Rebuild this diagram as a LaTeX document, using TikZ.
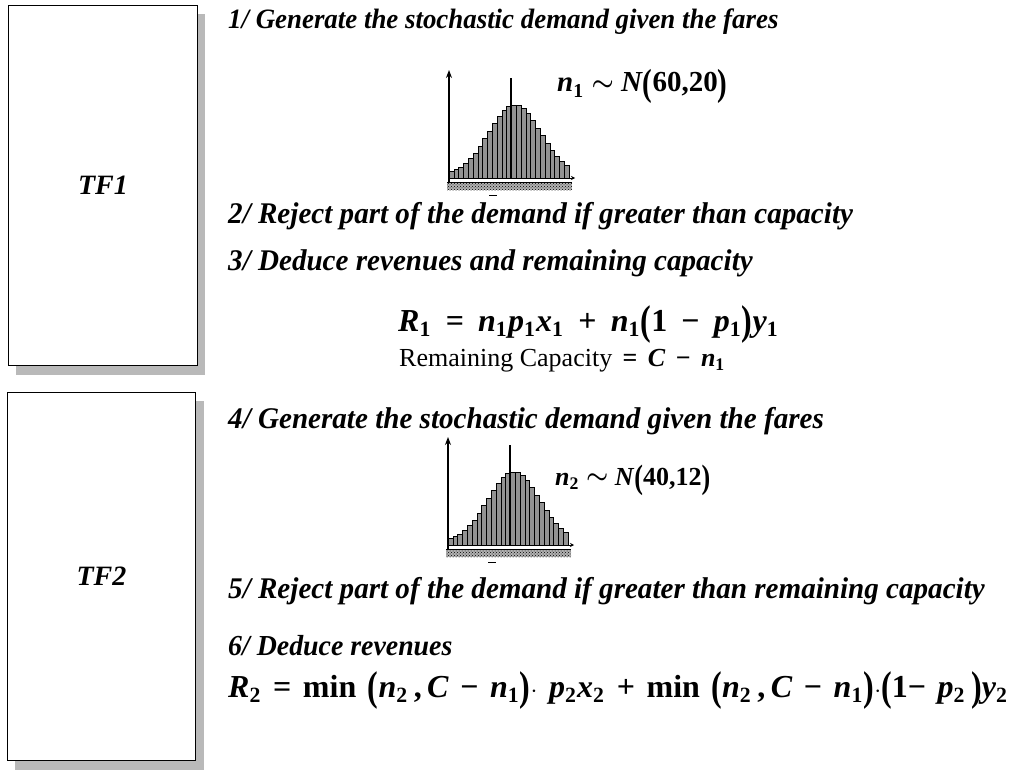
\documentclass[tikz,border=0pt]{standalone}
\usepackage{fontspec}
\setmainfont{Liberation Serif}
\newfontfamily\stepfont[FakeStretch=0.96]{Liberation Serif}
\newfontfamily\stepfontw[FakeStretch=0.97]{Liberation Serif}
\usetikzlibrary{arrows.meta,patterns}
\newcommand\bi[1]{\textbf{\textit{#1}}}
\newcommand\lowsub[1]{\raisebox{-0.4ex}{\scalebox{0.68}{\bfseries #1}}\hspace{0.04em}}
\newcommand\tallpar[1]{\raisebox{-0.12em}{\scalebox{1}[1.3]{\bfseries #1}}}
\newcommand\opsp{\hspace{0.44em}}
\newcommand\rtwosp{\hspace{0.36em}}
\newcommand\rcsp{\hspace{0.4em}}
\newcommand\tildeop{\raisebox{0.05em}{\boldmath$\sim$}}
\tikzset{
  panel/.style={draw=black, line width=1pt, fill=white},
  panelshadow/.style={fill=gray!55, draw=none},
  steptext/.style={anchor=base west, inner sep=0pt, font=\fontsize{30}{34}\stepfontw\bfseries\itshape},
  formula/.style={anchor=base west, inner sep=0pt, font=\fontsize{32}{36}\selectfont},
  tflabel/.style={inner sep=0pt, font=\fontsize{28}{32}\selectfont\bfseries\itshape},
  bar/.style={draw=black, line width=0.6pt, fill=gray!85},
  axis/.style={draw=black, line width=1.1pt},
}
\newcommand\histogram[3]{% #1 = x of axis, #2 = baseline y, #3 = name prefix
  \foreach \i in {0,...,24}{
    \pgfmathsetmacro\h{70*exp(-((\i-13.2)^2)/(2*5.4*5.4))+3}
    \draw[bar] ({#1+\i*4.8},#2) rectangle ({#1+(\i+1)*4.8},{#2-\h});
  }
  \fill[gray!60] (#1-2,#2+5) rectangle (#1+123,#2+12);
  \fill[pattern=crosshatch dots, pattern color=black] (#1-2,#2+5) rectangle (#1+123,#2+12);
  \draw[black, line width=0.8pt] (#1-2,#2+4) -- (#1+123,#2+4);
  \coordinate (#3base) at (#1,#2+5);
  \coordinate (#3top) at (#1,#2-108);
  \coordinate (#3xend) at (#1+126,#2);
  \coordinate (#3mlo) at (#1+62,#2);
  \coordinate (#3mhi) at (#1+62,#2-100);
  \coordinate (#3dl) at (#1+40,#2+17);
  \coordinate (#3dr) at (#1+48,#2+17);
  \draw[axis,-{Stealth[length=8pt,width=6pt]}] (#3base) -- (#3top);
  \draw[black,line width=0.8pt,-{Stealth[length=4pt,width=4pt]}] (#1,#2) -- (#3xend);
  \draw[axis] (#3mlo) -- (#3mhi);
  \draw[black,line width=1pt] (#3dl) -- (#3dr);
}
\begin{document}
\begin{tikzpicture}[x=1pt,y=-1pt]
\useasboundingbox (0,0) rectangle (1019,770);
% panels
\fill[panelshadow] (16,14) rectangle (205,375);
\node[panel, minimum width=189pt, minimum height=360pt, anchor=north west, inner sep=0pt] (tf1box) at (8,5) {};
\node[tflabel] (tf1) at (tf1box.center) {TF1};
\fill[panelshadow] (15,401) rectangle (204,770);
\node[panel, minimum width=188pt, minimum height=368pt, anchor=north west, inner sep=0pt] (tf2box) at (7,392) {};
\node[tflabel] (tf2) at (tf2box.center) {TF2};
% step texts
\node[steptext, font=\fontsize{28}{32}\stepfont\bfseries\itshape] (s1) at (228,29) {1/ Generate the stochastic demand given the fares};
\node[steptext] (s2) at (228,223) {2/ Reject part of the demand if greater than capacity};
\node[steptext] (s3) at (228,270) {3/ Deduce revenues and remaining capacity};
\node[steptext] (s4) at (228,428) {4/ Generate the stochastic demand given the fares};
\node[steptext] (s5) at (228,598) {5/ Reject part of the demand if greater than remaining capacity};
\node[steptext, font=\fontsize{29}{33}\stepfont\bfseries\itshape] (s6) at (228,655) {6/ Deduce revenues};
% histograms
\histogram{449}{178}{ha}
\histogram{448}{545}{hb}
% distributions
\node[formula, font=\fontsize{29}{33}\selectfont] (d1) at (557,92) {\bi{n}\lowsub{1} \tildeop{} \bi{N}\tallpar{(}\textbf{60,20}\tallpar{)}};
\node[formula, font=\fontsize{26}{30}\selectfont] (d2) at (555,485) {\bi{n}\lowsub{2} \tildeop{} \bi{N}\tallpar{(}\textbf{40,12}\tallpar{)}};
% R1
\node[formula] (r1) at (398,331) {\bi{R}\lowsub{1}\opsp\textbf{=}\opsp\bi{n}\lowsub{1}\bi{p}\lowsub{1}\bi{x}\lowsub{1}\opsp\textbf{+}\opsp\bi{n}\lowsub{1}\tallpar{(}\textbf{1}\opsp\textbf{\char"2212}\opsp\bi{p}\lowsub{1}\tallpar{)}\bi{y}\lowsub{1}};
\node[formula, font=\fontsize{26}{30}\selectfont] (rc) at (399,366) {Remaining Capacity\rcsp\textbf{=}\rcsp\bi{C}\rcsp\textbf{\char"2212}\rcsp\bi{n}\lowsub{1}};
% R2
\node[formula] (r2) at (228,697) {\bi{R}\lowsub{2}\rtwosp\textbf{=}\rtwosp\textbf{min}\rtwosp\tallpar{(}\bi{n}\lowsub{2}\textbf{\,,}\,\bi{C}\rtwosp\textbf{\char"2212}\rtwosp\bi{n}\lowsub{1}\tallpar{)}\textbf{$\cdot$}\rtwosp\bi{p}\lowsub{2}\bi{x}\lowsub{2}\rtwosp\textbf{+}\rtwosp\textbf{min}\rtwosp\tallpar{(}\bi{n}\lowsub{2}\textbf{\,,}\,\bi{C}\rtwosp\textbf{\char"2212}\rtwosp\bi{n}\lowsub{1}\tallpar{)}\textbf{$\cdot$}\tallpar{(}\textbf{1\char"2212}\rtwosp\bi{p}\lowsub{2}\,\tallpar{)}\bi{y}\lowsub{2}};
\end{tikzpicture}
\end{document}
